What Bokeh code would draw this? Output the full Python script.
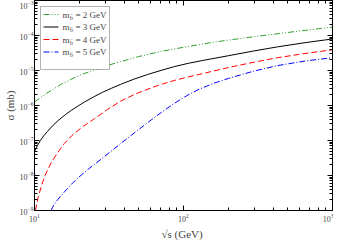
from bokeh.plotting import figure
from bokeh.models import (LogAxis, Label, BoxAnnotation, Arrow, Range1d, FixedTicker,
                          CustomJSTickFormatter, LogTickFormatter)
from bokeh.embed import file_html
from bokeh.resources import INLINE

# ---- data ----
sqrt_s_2 = [10, 12, 15, 20, 30, 50, 70, 100, 150, 200, 300, 500, 700, 1000]
sigma_2 = [1.26e-6, 2.2e-6, 4.0e-6, 7.3e-6, 1.35e-5, 2.5e-5, 3.5e-5, 4.6e-5, 6.2e-5, 7.4e-5, 9.3e-5, 1.22e-4, 1.45e-4, 1.74e-4]

sqrt_s_3 = [10, 10.47, 10.95, 11.55, 12.18, 13.34, 14.6, 16.12, 17.78, 19.63, 21.65, 24.9, 28.6, 33.0,
            37.9, 46.7, 57.5, 70.9, 87.3, 107.5, 132.4, 163.1, 200.9, 293.5, 428, 654.6, 1000]
sigma_3 = [4.9e-8, 7.18e-8, 1.0e-7, 1.37e-7, 1.79e-7, 2.73e-7, 3.9e-7, 5.47e-7, 7.4e-7, 9.73e-7, 1.26e-6,
           1.76e-6, 2.38e-6, 3.13e-6, 4.03e-6, 5.69e-6, 7.7e-6, 1.01e-5, 1.3e-5, 1.6e-5, 1.91e-5, 2.25e-5,
           2.65e-5, 3.59e-5, 4.74e-5, 6.24e-5, 7.96e-5]

sqrt_s_4 = [10.15, 10.385, 10.6, 11.2, 11.8, 12.94, 14.2, 15.87, 17.8, 21.16, 25.2, 30.9, 37.9, 47.6, 59.7,
            72.2, 87.3, 105.4, 127.3, 160, 200.9, 293.5, 428, 654.6, 1000]
sigma_4 = [1e-9, 1.64e-9, 2.48e-9, 5.48e-9, 1.03e-8, 2.32e-8, 4.3e-8, 8.24e-8, 1.38e-7, 2.52e-7, 4.17e-7,
           7.73e-7, 1.34e-6, 2.13e-6, 3.11e-6, 4.11e-6, 5.23e-6, 6.4e-6, 7.7e-6, 9.73e-6, 1.22e-5, 1.71e-5,
           2.32e-5, 3.07e-5, 3.9e-5]

sqrt_s_5 = [12.94, 13.23, 13.54, 14.38, 15.28, 17.12, 19.2, 23.17, 28.0, 32.6, 37.9, 47.6, 59.7, 72.2,
            87.3, 105.4, 127.3, 160, 200.9, 293.5, 428, 654.6, 1000]
sigma_5 = [1e-9, 1.24e-9, 1.48e-9, 2.1e-9, 2.82e-9, 4.88e-9, 7.96e-9, 1.57e-8, 2.92e-8, 4.91e-8, 8.2e-8,
           1.75e-7, 3.66e-7, 6.7e-7, 1.17e-6, 1.92e-6, 2.92e-6, 4.33e-6, 5.96e-6, 9.5e-6, 1.38e-5, 1.87e-5,
           2.32e-5]

x_major = [10, 100, 1000]
y_major = [1e-9, 1e-8, 1e-7, 1e-6, 1e-5, 1e-4, 1e-3]

labels = ["= 2 GeV", "= 3 GeV", "= 4 GeV", "= 5 GeV"]
colors = ["#2e9e2e", "#000000", "#ff0000", "#0000ff"]
dashes = ["6 2 1 2 1 2", "solid", "6 3", "6 2 1 2"]

FONT = "Liberation Serif"

def minors(majors):
    out = []
    for m in majors[:-1]:
        out += [m * k for k in range(2, 10)]
    return out

x_ticker = FixedTicker(ticks=x_major, minor_ticks=minors(x_major))
y_ticker = FixedTicker(ticks=y_major, minor_ticks=minors(y_major))

p = figure(frame_width=298, frame_height=210,
           x_axis_type="log", y_axis_type="log",
           x_range=Range1d(10, 1000), y_range=Range1d(1e-9, 1e-3),
           output_backend="svg", toolbar_location=None,
           min_border_left=0, min_border_right=1, min_border_top=0, min_border_bottom=0,
           background_fill_color="white", border_fill_color="white")
p.grid.visible = False
p.outline_line_color = "black"
p.outline_line_width = 1

series = [(sqrt_s_2, sigma_2), (sqrt_s_3, sigma_3), (sqrt_s_4, sigma_4), (sqrt_s_5, sigma_5)]
for (xs, ys), c, d in zip(series, colors, dashes):
    p.line(xs, ys, line_color=c, line_dash=d, line_width=1)

def style(ax, show_labels):
    ax.major_tick_in = 5
    ax.major_tick_out = 0
    ax.minor_tick_in = 3
    ax.minor_tick_out = 0
    ax.axis_line_color = "black"
    ax.major_tick_line_color = "black"
    ax.minor_tick_line_color = "black"
    ax.major_label_text_font = FONT
    ax.axis_label_text_font = FONT
    ax.axis_label_text_font_style = "normal"
    ax.major_label_text_font_size = "8px"
    if show_labels:
        ax.major_label_standoff = 1
        ax.axis_label_text_font_size = "11px"
        ax.axis_label_standoff = 1
        ax.formatter = LogTickFormatter()
    else:
        ax.major_label_standoff = 0
        ax.formatter = CustomJSTickFormatter(code="return ''")

p.xaxis[0].ticker = x_ticker
p.yaxis[0].ticker = y_ticker
style(p.xaxis[0], True)
style(p.yaxis[0], True)
p.xaxis[0].axis_label_standoff = 3
p.xaxis[0].major_label_standoff = 3
p.xaxis[0].axis_label = "\u221as  (GeV)"
p.yaxis[0].axis_label = "\u03c3 (mb)"

top = LogAxis(ticker=x_ticker)
right = LogAxis(ticker=y_ticker)
style(top, False)
style(right, False)
p.add_layout(top, "above")
p.add_layout(right, "right")

# ---- legend (screen units) ----
H = 210
box = BoxAnnotation(left=6, right=75, top=H - 6, bottom=H - 69,
                    left_units="screen", right_units="screen", top_units="screen", bottom_units="screen",
                    fill_color="white", fill_alpha=1, line_color="black", line_width=1)
p.add_layout(box)
rows = [14, 26.5, 39, 51.5]
for lab, c, d, r in zip(labels, colors, dashes, rows):
    yy = H - r
    p.add_layout(Arrow(x_start=9, y_start=yy, x_end=24, y_end=yy, start_units="screen", end_units="screen",
                       end=None, line_color=c, line_dash=d, line_width=1))
    p.add_layout(Label(x=28, y=yy, x_units="screen", y_units="screen", text="m",
                       text_font=FONT, text_font_size="9px", text_baseline="middle"))
    p.add_layout(Label(x=35.5, y=yy - 3, x_units="screen", y_units="screen", text="b\u0304",
                       text_font=FONT, text_font_size="6px", text_baseline="middle"))
    p.add_layout(Label(x=41, y=yy, x_units="screen", y_units="screen", text=lab,
                       text_font=FONT, text_font_size="9px", text_baseline="middle"))

open("out.html", "w").write(file_html(p, INLINE))
